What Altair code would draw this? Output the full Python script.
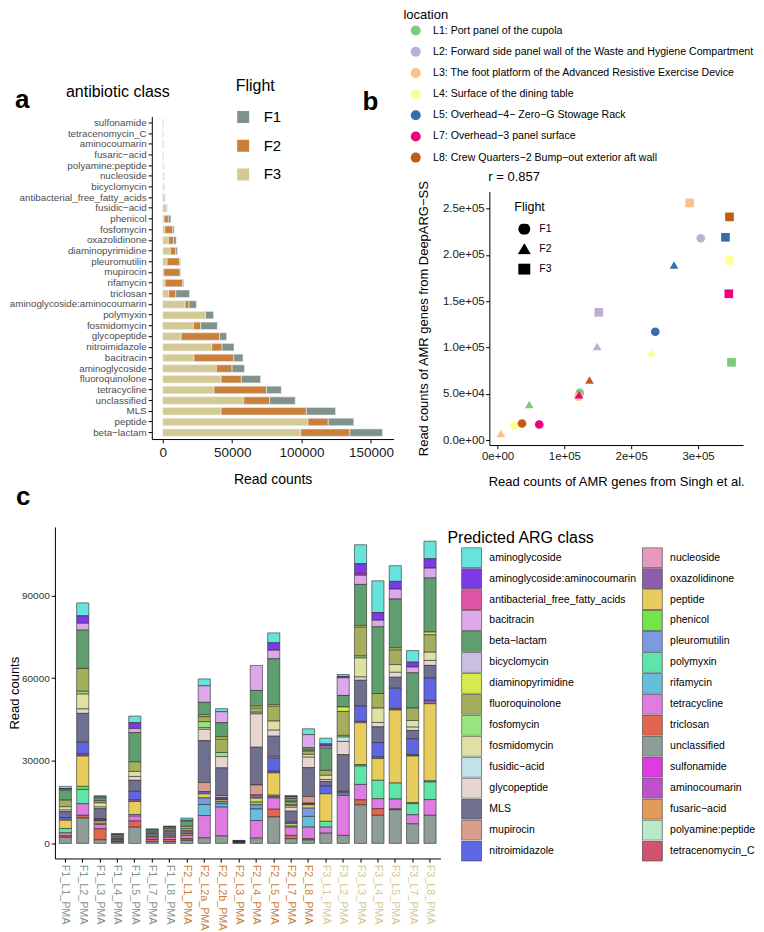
import altair as alt
import pandas as pd

FONT = "Liberation Sans"
M = "\u2212"  # minus-like dash used in the figure's labels

# ---------------- Panel a: reads per antibiotic class and flight ----------------
FLIGHTS = ["F1", "F2", "F3"]
FLIGHT_COLORS = ["#7F928B", "#C8803A", "#D3C992"]

A_CLASSES = ["sulfonamide", "tetracenomycin_C", "aminocoumarin", f"fusaric{M}acid",
             "polyamine:peptide", "nucleoside", "bicyclomycin", "antibacterial_free_fatty_acids",
             f"fusidic{M}acid", "phenicol", "fosfomycin", "oxazolidinone", "diaminopyrimidine",
             "pleuromutilin", "mupirocin", "rifamycin", "triclosan", "aminoglycoside:aminocoumarin",
             "polymyxin", "fosmidomycin", "glycopeptide", "nitroimidazole", "bacitracin",
             "aminoglycoside", "fluoroquinolone", "tetracycline", "unclassified", "MLS",
             "peptide", f"beta{M}lactam"]
A_F3 = [300, 200, 300, 300, 500, 600, 600, 1200, 1900, 1000, 1500, 4000, 5500, 3100, 700,
        1700, 4300, 16100, 30700, 22100, 13200, 35300, 22500, 38600, 42000, 36900, 58300,
        42000, 104600, 99500]
A_F2 = [0, 0, 0, 100, 200, 300, 200, 300, 1000, 3000, 5700, 3700, 3900, 8900, 11800, 12700,
        5100, 2800, 200, 5200, 27800, 7400, 28600, 11300, 14600, 37900, 18700, 61400, 14600,
        35300]
A_F1 = [100, 0, 100, 0, 0, 0, 100, 100, 100, 1800, 1000, 1900, 1200, 700, 400, 700, 9800,
        5300, 5600, 12000, 5000, 8600, 6700, 8900, 13900, 10600, 18400, 21100, 18400, 23500]

# ---------------- Panel b: DeepARG-SS vs Singh et al. ----------------
B_LOCATIONS = ["L1", "L2", "L3", "L4", "L5", "L7", "L8"]
B_LOC_LABELS = ["L1: Port panel of the cupola",
                "L2: Forward side panel wall of the Waste and Hygiene Compartment",
                "L3: The foot platform of the Advanced Resistive Exercise Device",
                "L4: Surface of the dining table",
                f"L5: Overhead{M}4{M} Zero{M}G Stowage Rack",
                f"L7: Overhead{M}3 panel surface",
                f"L8: Crew Quarters{M}2 Bump{M}out exterior aft wall"]
B_LOC_COLORS = ["#7FC97F", "#BEAED4", "#FDC086", "#FFFF99", "#386CB0", "#F0027F", "#BF5B17"]
B_LOC = ["L1", "L2", "L3", "L4", "L5", "L7", "L8"] * 3
B_FLIGHT = ["F1"] * 7 + ["F2"] * 7 + ["F3"] * 7
B_SINGH = [123000, 304000, 121000, 25000, 236000, 62400, 36600,
           47500, 149000, 5000, 230000, 264000, 122000, 137600,
           350000, 151500, 287600, 347000, 341000, 346000, 347000]
B_DEEPARG = [51000, 218000, 47000, 15500, 117000, 16900, 18000,
             38500, 101000, 7200, 94000, 189000, 49000, 65000,
             84000, 138000, 256100, 194000, 219000, 158000, 241000]

# ---------------- Panel c: predicted ARG class per sample ----------------
CLASSES = ["aminoglycoside", "aminoglycoside:aminocoumarin", "antibacterial_free_fatty_acids",
           "bacitracin", f"beta{M}lactam", "bicyclomycin", "diaminopyrimidine", "fluoroquinolone",
           "fosfomycin", "fosmidomycin", f"fusidic{M}acid", "glycopeptide", "MLS", "mupirocin",
           "nitroimidazole", "nucleoside", "oxazolidinone", "peptide", "phenicol", "pleuromutilin",
           "polymyxin", "rifamycin", "tetracycline", "triclosan", "unclassified", "sulfonamide",
           "aminocoumarin", f"fusaric{M}acid", "polyamine:peptide", "tetracenomycin_C"]
CLASS_COLORS = ["#66E3DD", "#7C3AE6", "#DE55A6", "#DCA8EA", "#5F9E6E", "#C9BFE0", "#D5EA4E",
                "#A5AE5C", "#98E47E", "#DFE1A2", "#C1E3EA", "#E6D6CF", "#6F6F8F", "#D99E8B",
                "#5F66E3", "#E59ABD", "#8E5DAD", "#E8CD5C", "#71E549", "#7A9BE2", "#5FE5A9",
                "#65BFDC", "#E07BE1", "#E2654F", "#8E9E97", "#DE3BE1", "#C150CF", "#E29B58",
                "#B9E9C9", "#D25271"]

BL, FQ = f"beta{M}lactam", "fluoroquinolone"
AGAC = "aminoglycoside:aminocoumarin"

F1_L1 = {"aminoglycoside": 800, AGAC: 200, "bacitracin": 400, BL: 3600, FQ: 2400,
         "fosmidomycin": 1200, "glycopeptide": 600, "MLS": 2100, "nitroimidazole": 1000,
         "peptide": 3000, "polymyxin": 1600, "tetracycline": 1100, "triclosan": 500,
         "unclassified": 2200}
F1_L2 = {"aminoglycoside": 4700, AGAC: 2700, "bacitracin": 2500, BL: 13900, FQ: 8300,
         "fosfomycin": 1000, "fosmidomycin": 5400, "glycopeptide": 1600, "MLS": 10500,
         "nitroimidazole": 4200, "oxazolidinone": 800, "peptide": 11000, "phenicol": 1100,
         "polymyxin": 5200, "tetracycline": 4200, "triclosan": 1000, "unclassified": 9200}
F1_L3 = {"aminoglycoside": 300, "bacitracin": 500, BL: 1000, FQ: 800, "fosmidomycin": 1500,
         "glycopeptide": 600, "MLS": 3600, "nitroimidazole": 500, "oxazolidinone": 400,
         "peptide": 800, "polymyxin": 400, "tetracycline": 1600, "triclosan": 4000,
         "unclassified": 1300}
F1_L4 = {"aminoglycoside": 300, "bacitracin": 200, BL: 800, FQ: 500, "MLS": 600,
         "tetracycline": 400, "triclosan": 300, "unclassified": 500}
F1_L5 = {"aminoglycoside": 2400, AGAC: 2100, "bacitracin": 1500, BL: 10600, FQ: 3500,
         "fosmidomycin": 1800, "glycopeptide": 1400, "MLS": 4000, "nitroimidazole": 3100,
         "oxazolidinone": 600, "peptide": 4700, "polymyxin": 600, "tetracycline": 1800,
         "triclosan": 2200, "unclassified": 5900}
F1_L7 = {"bacitracin": 300, BL: 600, FQ: 500, "glycopeptide": 400, "MLS": 1000,
         "peptide": 500, "tetracycline": 600, "triclosan": 800, "unclassified": 600}
F1_L8 = {"aminoglycoside": 200, "bacitracin": 200, BL: 600, FQ: 600, "fosmidomycin": 400,
         "glycopeptide": 500, "MLS": 1200, "peptide": 400, "tetracycline": 800,
         "triclosan": 800, "unclassified": 600}
F2_L1 = {"aminoglycoside": 800, "bacitracin": 300, BL: 1900, FQ: 1000, "glycopeptide": 600,
         "MLS": 1200, "peptide": 500, "tetracycline": 1200, "triclosan": 600,
         "unclassified": 1100}
F2_L2a = {"aminoglycoside": 2500, "bacitracin": 6000, BL: 4600, "diaminopyrimidine": 600,
          FQ: 1800, "fosfomycin": 2200, "fosmidomycin": 600, "glycopeptide": 4100,
          "MLS": 15200, "mupirocin": 3300, "nitroimidazole": 800, "peptide": 1500,
          "pleuromutilin": 2400, "rifamycin": 4000, "tetracycline": 8100, "unclassified": 2000}
F2_L2b = {"aminoglycoside": 1100, "bacitracin": 4000, BL: 5200, "diaminopyrimidine": 800,
          FQ: 4800, "fosfomycin": 1500, "glycopeptide": 4100, "MLS": 10000, "mupirocin": 800,
          "nitroimidazole": 500, "oxazolidinone": 300, "peptide": 600, "pleuromutilin": 800,
          "rifamycin": 1200, "tetracycline": 10500, "unclassified": 2700}
F2_L3 = {"aminoglycoside": 100, BL: 200, FQ: 100, "MLS": 200, "peptide": 150,
         "tetracycline": 150, "unclassified": 200}
F2_L4 = {"bacitracin": 9100, BL: 5700, "diaminopyrimidine": 700, FQ: 1500, "fosfomycin": 600,
         "glycopeptide": 12100, "MLS": 13700, "mupirocin": 3600, "oxazolidinone": 1200,
         "peptide": 1400, "phenicol": 1000, "pleuromutilin": 1500, "rifamycin": 4200,
         "tetracycline": 6400, "unclassified": 1900}
F2_L5 = {"aminoglycoside": 3600, AGAC: 2700, "bacitracin": 3100, BL: 16600,
         "diaminopyrimidine": 600, FQ: 5400, "fosmidomycin": 3300, "glycopeptide": 2200,
         "MLS": 7300, "mupirocin": 600, "nitroimidazole": 4800, "oxazolidinone": 600,
         "peptide": 8100, "pleuromutilin": 500, "rifamycin": 500, "tetracycline": 4100,
         "triclosan": 2800, "unclassified": 9600}
F2_L7 = {"aminoglycoside": 400, AGAC: 200, "bacitracin": 500, BL: 1000,
         "diaminopyrimidine": 300, FQ: 1000, "fosfomycin": 300, "fosmidomycin": 600,
         "glycopeptide": 1400, "MLS": 4000, "nitroimidazole": 500, "peptide": 900,
         "polymyxin": 400, "tetracycline": 3000, "triclosan": 1200, "unclassified": 1700}
F2_L8 = {"aminoglycoside": 2100, "bacitracin": 4800, BL: 900, "diaminopyrimidine": 300,
         FQ: 1200, "fosmidomycin": 1000, "glycopeptide": 3800, "MLS": 10500, "mupirocin": 2400,
         "nitroimidazole": 300, "oxazolidinone": 300, "peptide": 1200, "pleuromutilin": 3000,
         "rifamycin": 3900, "tetracycline": 4200, "triclosan": 500, "unclassified": 1200}
F3_L1 = {"aminoglycoside": 2100, AGAC: 800, "bacitracin": 700, BL: 8100, FQ: 1800,
         "fosmidomycin": 1500, "glycopeptide": 700, "MLS": 1700, "nitroimidazole": 2800,
         "peptide": 10000, "polymyxin": 2100, "tetracycline": 2200, "unclassified": 3700}
F3_L2 = {"aminoglycoside": 700, AGAC: 500, "bacitracin": 6400, BL: 4200,
         "diaminopyrimidine": 1600, FQ: 8700, "fosfomycin": 600, f"fusidic{M}acid": 1600,
         "glycopeptide": 4800, "MLS": 13300, "nitroimidazole": 500, "peptide": 500,
         "rifamycin": 500, "tetracycline": 14500, "unclassified": 2900}
F3_L3 = {"aminoglycoside": 6900, AGAC: 3600, "antibacterial_free_fatty_acids": 600,
         "bacitracin": 3300, BL: 14900, "diaminopyrimidine": 600, FQ: 10500, "fosfomycin": 700,
         "fosmidomycin": 6900, "glycopeptide": 1200, "MLS": 9300, "nitroimidazole": 5600,
         "oxazolidinone": 500, "peptide": 15200, "phenicol": 500, "polymyxin": 6700,
         "tetracycline": 5600, "triclosan": 1800, "unclassified": 14000}
F3_L4 = {"aminoglycoside": 11500, AGAC: 2800, "bacitracin": 2400, BL: 24200, FQ: 5300,
         "fosmidomycin": 5200, "glycopeptide": 1600, "MLS": 5700, "nitroimidazole": 5200,
         "oxazolidinone": 600, "peptide": 7900, "polymyxin": 6700, "tetracycline": 3600,
         "triclosan": 2400, "unclassified": 10200}
F3_L5 = {"aminoglycoside": 5700, AGAC: 2800, "bacitracin": 3600, BL: 17800,
         "diaminopyrimidine": 700, FQ: 5300, "fosmidomycin": 2800, "glycopeptide": 1800,
         "MLS": 4000, "nitroimidazole": 7300, "oxazolidinone": 600, "peptide": 26500,
         "polymyxin": 5800, "tetracycline": 3600, "triclosan": 300, "unclassified": 12200}
F3_L7 = {"aminoglycoside": 4200, AGAC: 1800, "bacitracin": 2100, BL: 12800, FQ: 4500,
         "fosmidomycin": 2400, "glycopeptide": 1200, "MLS": 3000, "nitroimidazole": 5800,
         "oxazolidinone": 500, "peptide": 16900, "phenicol": 400, "polymyxin": 4000,
         "tetracycline": 3300, "unclassified": 7100}
F3_L8 = {"aminoglycoside": 6400, AGAC: 3400, "bacitracin": 3600, BL: 19600,
         "diaminopyrimidine": 1000, FQ: 6300, "fosmidomycin": 3000, "glycopeptide": 1800,
         "MLS": 4600, "nitroimidazole": 8100, "oxazolidinone": 1200, "peptide": 28000,
         "phenicol": 400, "polymyxin": 6400, "tetracycline": 5700, "unclassified": 10200}

SAMPLES = ["F1_L1_PMA", "F1_L2_PMA", "F1_L3_PMA", "F1_L4_PMA", "F1_L5_PMA", "F1_L7_PMA",
           "F1_L8_PMA", "F2_L1_PMA", "F2_L2a_PMA", "F2_L2b_PMA", "F2_L3_PMA", "F2_L4_PMA",
           "F2_L5_PMA", "F2_L7_PMA", "F2_L8_PMA", "F3_L1_PMA", "F3_L2_PMA", "F3_L3_PMA",
           "F3_L4_PMA", "F3_L5_PMA", "F3_L7_PMA", "F3_L8_PMA"]
SAMPLE_VALUES = [F1_L1, F1_L2, F1_L3, F1_L4, F1_L5, F1_L7, F1_L8,
                 F2_L1, F2_L2a, F2_L2b, F2_L3, F2_L4, F2_L5, F2_L7, F2_L8,
                 F3_L1, F3_L2, F3_L3, F3_L4, F3_L5, F3_L7, F3_L8]

# ---------------- tables ----------------
a_rows = []
for i, cls in enumerate(A_CLASSES):
    for fl, vals, o in (("F3", A_F3, 0), ("F2", A_F2, 1), ("F1", A_F1, 2)):
        a_rows.append({"cls": cls, "flight": fl, "reads": vals[i], "ord": o})
a_df = pd.DataFrame(a_rows)

b_df = pd.DataFrame({
    "loc": [B_LOC_LABELS[B_LOCATIONS.index(c)] for c in B_LOC],
    "flight": B_FLIGHT, "singh": B_SINGH, "deeparg": B_DEEPARG,
    "ord": list(range(len(B_LOC))),
})

c_rows = []
for s, vals in zip(SAMPLES, SAMPLE_VALUES):
    for cls, v in vals.items():
        c_rows.append({"sample": s, "cls": cls, "reads": v,
                       "ord": len(CLASSES) - 1 - CLASSES.index(cls)})
c_df = pd.DataFrame(c_rows)


def txt(text, x, y, size, weight="normal", align="left", baseline="middle"):
    return alt.Chart(pd.DataFrame({"t": [text]})).mark_text(
        align=align, baseline=baseline, fontSize=size, fontWeight=weight,
        color="black", font=FONT
    ).encode(text="t:N", x=alt.value(x), y=alt.value(y))


# Top row: panels a and b share one view; each has its own scales in its own pixel range.
AX0, AX1 = 97, 339     # panel a plot, x pixels within the row
BX0, BX1 = 435, 689    # panel b plot
A_H = 323
ROW_H = 329

bars_a = alt.Chart(a_df).mark_bar(stroke="#ececec", strokeWidth=0.6).encode(
    y=alt.Y("cls:N", sort=A_CLASSES,
            scale=alt.Scale(paddingInner=0.3, paddingOuter=0.25, range=[0, A_H]),
            axis=alt.Axis(title=None, orient="left", offset=-AX0, labelFontSize=9.8,
                          labelColor="#4d4d4d", labelPadding=2, labelLimit=300)),
    x=alt.X("reads:Q", stack="zero",
            scale=alt.Scale(domain=[-7915, 166215], nice=False, zero=False, range=[AX0, AX1]),
            axis=alt.Axis(title="Read counts", orient="bottom", offset=A_H - ROW_H,
                          values=[0, 50000, 100000, 150000], format="d",
                          labelFontSize=13.5, labelColor="#1a1a1a", labelPadding=3,
                          titleFontSize=14, titlePadding=13)),
    color=alt.Color("flight:N", scale=alt.Scale(domain=FLIGHTS, range=FLIGHT_COLORS),
                    legend=alt.Legend(title="Flight", orient="none", legendX=AX0 + 84, legendY=-39,
                                      titleFontSize=16, titleFontWeight="normal",
                                      titleColor="black", labelFontSize=15, labelColor="black",
                                      symbolType="square", symbolSize=144, symbolStrokeWidth=0,
                                      symbolOpacity=1, clipHeight=15, rowPadding=12.8,
                                      titlePadding=16, labelOffset=13, padding=0)),
    order=alt.Order("ord:Q", sort="ascending"),
)

x_lab = "datum.value == 0 ? '0e+00' : format(datum.value / 100000, 'd') + 'e+05'"
y_lab = ("datum.value == 0 ? '0.0e+00' : (datum.value < 100000 ? "
         "format(datum.value / 10000, '.1f') + 'e+04' : format(datum.value / 100000, '.1f') + 'e+05')")
pts = alt.Chart(b_df).mark_point(filled=True, size=75, opacity=1).encode(
    x=alt.X("singh:Q",
            scale=alt.Scale(domain=[-12250, 367250], nice=False, zero=False, range=[BX0, BX1]),
            axis=alt.Axis(title="Read counts of AMR genes from Singh et al.", orient="bottom",
                          values=[0, 100000, 200000, 300000], labelExpr=x_lab,
                          labelFontSize=11.5, labelColor="#1a1a1a", labelPadding=1.5,
                          titleFontSize=13, titlePadding=13.5)),
    y=alt.Y("deeparg:Q",
            scale=alt.Scale(domain=[-5245, 268545], range=[ROW_H, 75], nice=False, zero=False),
            axis=alt.Axis(title=f"Read counts of AMR genes from DeepARG{M}SS", orient="left",
                          offset=-BX0, values=[0, 50000, 100000, 150000, 200000, 250000],
                          labelExpr=y_lab, labelFontSize=11.5, labelColor="#1a1a1a",
                          labelPadding=1.5, titleFontSize=13, titlePadding=11.5)),
    color=alt.Color("loc:N", scale=alt.Scale(domain=B_LOC_LABELS, range=B_LOC_COLORS),
                    legend=alt.Legend(title="location", orient="none", legendX=BX0 - 86,
                                      legendY=-108, titleFontSize=13, titleFontWeight="normal",
                                      titleColor="black", labelFontSize=10.6, labelColor="black",
                                      symbolType="circle", symbolSize=100, symbolStrokeWidth=0,
                                      symbolOpacity=1, symbolOffset=7, labelOffset=12,
                                      clipHeight=11, rowPadding=9.2, titlePadding=3.5,
                                      labelLimit=500, padding=0)),
    shape=alt.Shape("flight:N",
                    scale=alt.Scale(domain=FLIGHTS, range=["circle", "triangle-up", "square"]),
                    legend=alt.Legend(title="Flight", orient="none", legendX=BX0 + 25,
                                      legendY=84.5, titleFontSize=12.5, titleFontWeight="normal",
                                      titleColor="black", labelFontSize=10.5, labelColor="black",
                                      symbolFillColor="black", symbolStrokeColor="black",
                                      symbolSize=110, symbolOpacity=1, symbolOffset=4,
                                      labelOffset=9, clipHeight=10.5, rowPadding=9,
                                      titlePadding=10.5, padding=0)),
    order=alt.Order("ord:Q"),
)

row1 = alt.layer(
    bars_a, pts,
    txt("a", AX0 - 137, -8, 26, "bold", baseline="alphabetic"),
    txt("antibiotic class", AX0 - 34, -24, 16, align="center"),
    txt("r = 0.857", BX0 - 1, 61, 13),
    txt("b", BX0 - 127, -6, 26, "bold", baseline="alphabetic"),
).resolve_scale(
    x="independent", y="independent", color="independent", shape="independent"
).resolve_axis(x="independent", y="independent").resolve_legend(
    color="independent", shape="independent"
).properties(width=BX1, height=ROW_H)

# ---------------- panel c ----------------
label_color = {
    "condition": [
        {"test": "indexof(datum.value, 'F1') == 0", "value": FLIGHT_COLORS[0]},
        {"test": "indexof(datum.value, 'F2') == 0", "value": FLIGHT_COLORS[1]},
    ],
    "value": FLIGHT_COLORS[2],
}
bars_c = alt.Chart(c_df).mark_bar(stroke="#2b2b2b", strokeWidth=0.6).encode(
    x=alt.X("sample:N", sort=SAMPLES,
            scale=alt.Scale(paddingInner=0.3, paddingOuter=0.25),
            axis=alt.Axis(title=None, labelAngle=90, labelAlign="left", labelBaseline="middle",
                          labelFontSize=10.8, labelPadding=2, labelColor=label_color)),
    y=alt.Y("reads:Q", stack="zero",
            scale=alt.Scale(domain=[-5470, 114870], nice=False, zero=False),
            axis=alt.Axis(title="Read counts", values=[0, 30000, 60000, 90000], format="d",
                          labelFontSize=10, labelColor="#333333", labelPadding=2,
                          titleFontSize=13, titlePadding=0)),
    color=alt.Color("cls:N", scale=alt.Scale(domain=CLASSES, range=CLASS_COLORS),
                    legend=alt.Legend(title=None, orient="none", legendX=406.7, legendY=20.3,
                                      columns=2, direction="vertical", columnPadding=5,
                                      clipHeight=20.8, rowPadding=0, symbolType="square",
                                      symbolSize=400, symbolStrokeColor="#333333",
                                      symbolStrokeWidth=0.6, symbolOpacity=1,
                                      labelFontSize=10.5, labelColor="black",
                                      labelOffset=7.3, labelLimit=300, padding=0)),
    order=alt.Order("ord:Q", sort="ascending"),
)
panel_c = alt.layer(
    bars_c,
    txt("c", -39, -22, 26, "bold", baseline="alphabetic"),
    txt("Predicted ARG class", 393, 11, 16),
).properties(width=386, height=332)

chart = alt.vconcat(row1, panel_c, spacing=82, bounds="flush").resolve_scale(
    color="independent"
).resolve_legend(color="independent").properties(padding=0).configure(
    font=FONT
).configure_view(stroke=None).configure_axis(
    grid=False, domainColor="black", tickColor="black", domainWidth=1, tickWidth=1,
    tickSize=3.7, titleFontWeight="normal", titleColor="black", labelFont=FONT, titleFont=FONT
).configure_legend(labelFont=FONT, titleFont=FONT)

chart.save("out.html", embed_options={"renderer": "svg", "actions": False})
